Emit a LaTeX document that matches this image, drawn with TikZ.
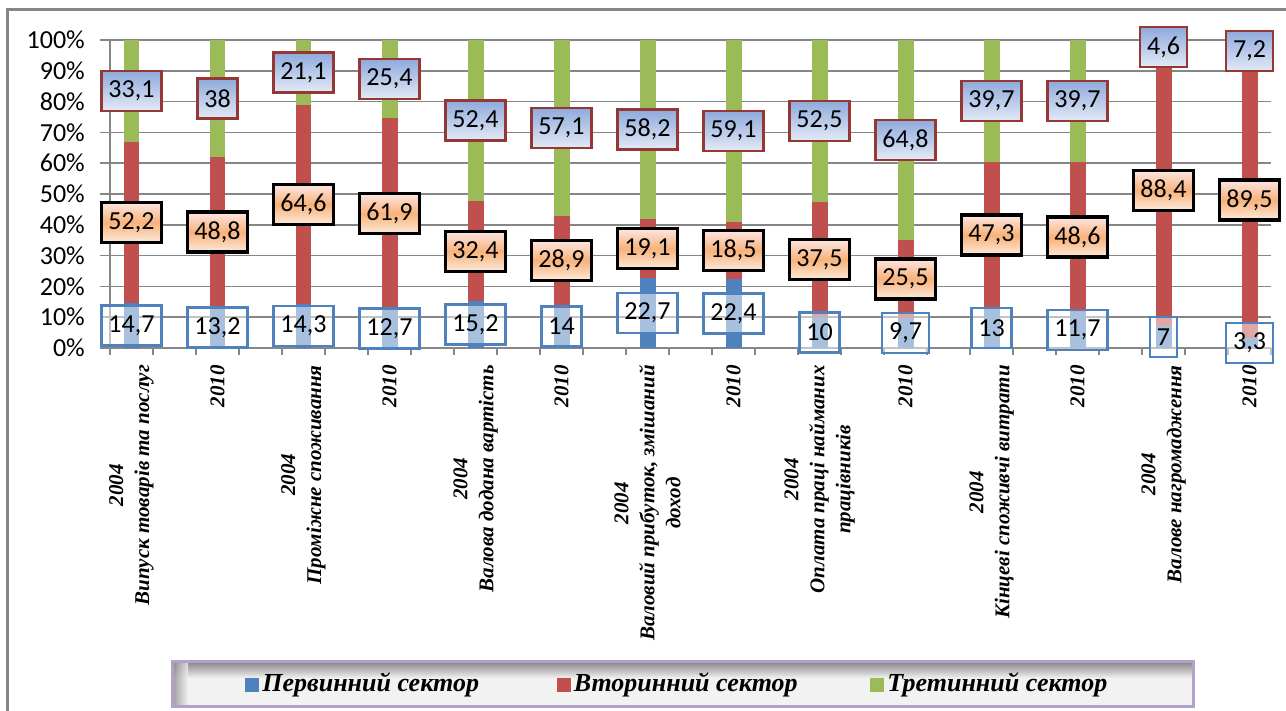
\documentclass[tikz,border=0pt]{standalone}
\usepackage{fontspec}
\usepackage{tikz}
\usetikzlibrary{positioning}
\setmainfont{Liberation Serif}
\newfontfamily\calfont{Carlito}
\definecolor{prim}{HTML}{4F81BD}
\definecolor{secn}{HTML}{C0504D}
\definecolor{tert}{HTML}{9BBB59}
\definecolor{gridc}{HTML}{868686}
\definecolor{tertline}{HTML}{953735}
\definecolor{tbtop}{HTML}{8FAADC}
\definecolor{tbbot}{HTML}{E3EAF6}
\definecolor{sbtop}{HTML}{FDE6E4}
\definecolor{sbmid}{HTML}{F8B27A}
\definecolor{sbbot}{HTML}{FDEADB}
\definecolor{legline}{HTML}{B3A2C7}
\definecolor{legfill}{HTML}{F2F2F2}
\newcommand\lblfont{\calfont\fontsize{26}{30}\selectfont}
\newcommand\xlfont{\bfseries\itshape\fontsize{21}{26}\selectfont}
\newcommand\legfont{\bfseries\itshape\fontsize{26}{30}\selectfont}
\pgfkeys{/pgf/number format/.cd,use comma,precision=1,assume math mode=true}
\tikzset{
  gridline/.style={gridc,line width=1.5pt},
  plab/.style={draw=prim,line width=2.5pt,fill=white,fill opacity=0.5,text opacity=1,
    font=\lblfont,minimum height=40pt,inner xsep=7pt,inner ysep=0pt},
  slab/.style={draw=black,line width=3.5pt,top color=sbtop,bottom color=sbbot,middle color=sbmid,
    font=\lblfont,minimum height=40pt,inner xsep=7pt,inner ysep=0pt},
  tlab/.style={draw=tertline,line width=2.5pt,top color=tbtop,bottom color=tbbot,
    font=\lblfont,minimum height=40pt,inner xsep=7pt,inner ysep=0pt},
  ylab/.style={font=\lblfont,anchor=east,inner sep=0pt},
  xlab/.style={rotate=90,anchor=east,align=center,font=\xlfont,inner sep=0pt},
  legsq/.style={minimum size=14pt,inner sep=0pt},
  legtxt/.style={font=\legfont,inner sep=0pt}
}
\begin{document}
\begin{tikzpicture}[x=43pt,y=3.08pt]
\useasboundingbox (-110pt,-363pt) rectangle (1176pt,348pt);
% chart frame
\draw[gridc,line width=3pt] (-102pt,-363pt) -- (-102pt,338pt) -- (1176pt,338pt);
\foreach \y in {0,10,...,100}{
  \draw[gridline] ([xshift=-10pt]0,\y) -- (27,\y);
  \node[ylab] (yl\y) at ([xshift=-25pt]0,\y) {\y\%};
}
\draw[gridline] (0,0) -- (0,100);
\foreach \k in {0,...,27} \draw[gridline] (\k,0) -- ++(0,-7pt);
\foreach \i/\p/\s/\t/\lab in {
  1/14.7/52.2/33.1/{2004\\Випуск товарів та послуг},
  2/13.2/48.8/38/{2010},
  3/14.3/64.6/21.1/{2004\\Проміжне споживання},
  4/12.7/61.9/25.4/{2010},
  5/15.2/32.4/52.4/{2004\\Валова додана вартість},
  6/14/28.9/57.1/{2010},
  7/22.7/19.1/58.2/{2004\\Валовий прибуток, змішаний\\доход},
  8/22.4/18.5/59.1/{2010},
  9/10/37.5/52.5/{2004\\Оплата праці найманих\\працівників},
  10/9.7/25.5/64.8/{2010},
  11/13/47.3/39.7/{2004\\Кінцеві споживчі витрати},
  12/11.7/48.6/39.7/{2010},
  13/7/88.4/4.6/{2004\\Валове нагромадження},
  14/3.3/89.5/7.2/{2010}}{
  \pgfmathsetmacro\bx{2*\i-1.5}
  \pgfmathsetmacro\ps{\p+\s}
  \fill[prim] (\bx-0.186,0) rectangle (\bx+0.186,\p);
  \fill[secn] (\bx-0.186,\p) rectangle (\bx+0.186,\ps);
  \fill[tert] (\bx-0.186,\ps) rectangle (\bx+0.186,100);
  \node[plab] (p\i) at (\bx,\p/2) {\pgfmathprintnumber{\p}};
  \node[slab] (s\i) at (\bx,\p+\s/2) {\pgfmathprintnumber{\s}};
  \node[tlab] (t\i) at (\bx,\ps+\t/2) {\pgfmathprintnumber{\t}};
  \node[xlab] (x\i) at ([yshift=-17pt]\bx,0) {\lab};
}
% legend
\fill[legfill] (62pt,-314pt) rectangle (1083pt,-359pt);
\shade[top color=gray!95,bottom color=legfill] (62pt,-314pt) rectangle (1083pt,-330pt);
\shade[left color=gray!95,right color=legfill,opacity=0.8] (62pt,-314pt) rectangle (78pt,-359pt);
\draw[legline,line width=3pt] (62pt,-314pt) rectangle (1083pt,-359pt);
\node[legsq,fill=prim] (lsq1) at (142pt,-337pt) {};
\node[legtxt,right=3pt of lsq1] (ltx1) {Первинний сектор};
\node[legsq,fill=secn] (lsq2) at (453.5pt,-337pt) {};
\node[legtxt,right=3pt of lsq2] (ltx2) {Вторинний сектор};
\node[legsq,fill=tert] (lsq3) at (767pt,-337pt) {};
\node[legtxt,right=3pt of lsq3] (ltx3) {Третинний сектор};
\end{tikzpicture}
\end{document}
